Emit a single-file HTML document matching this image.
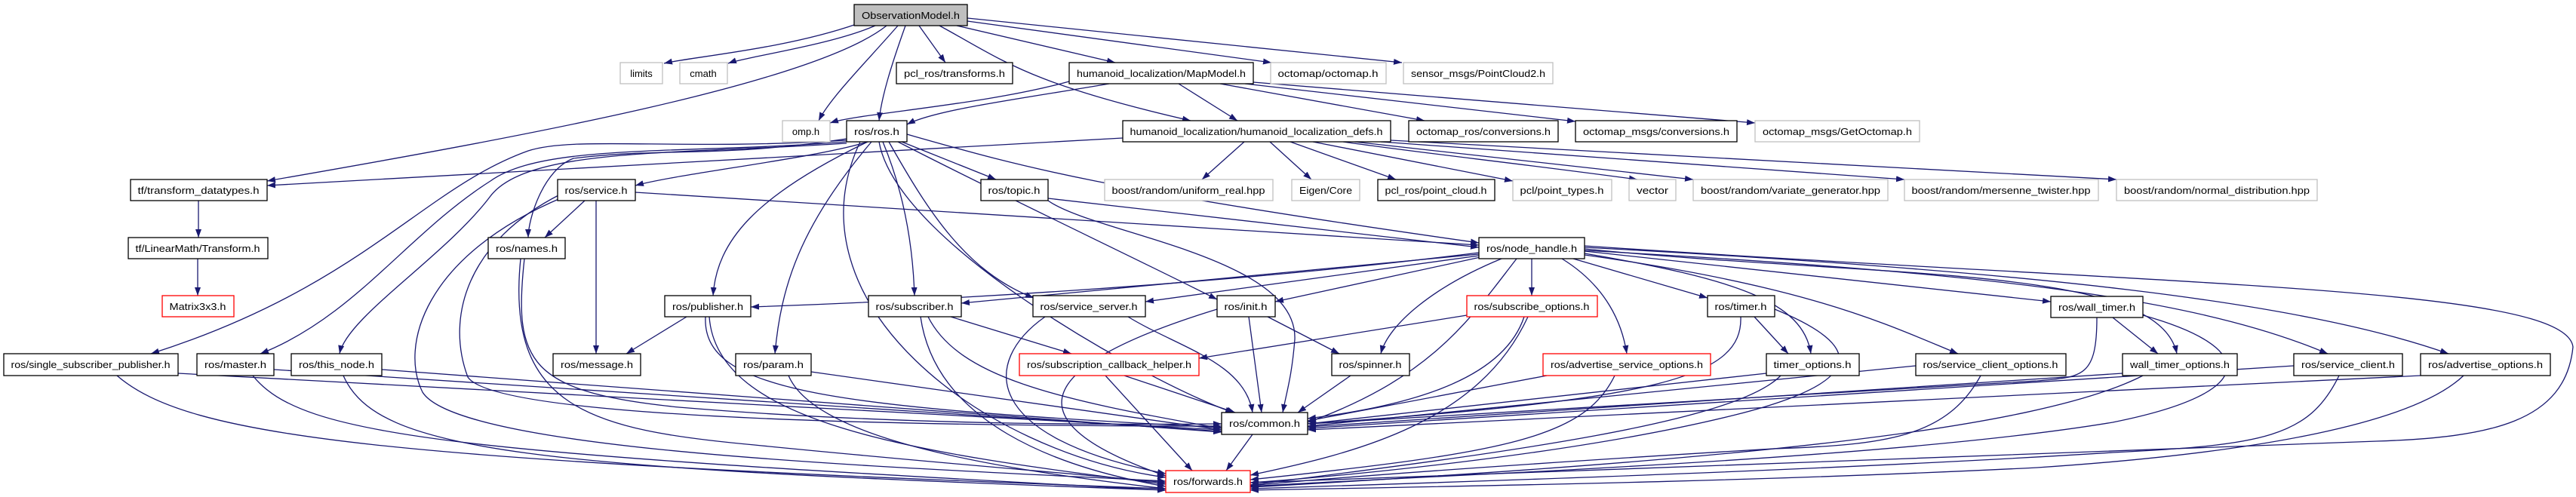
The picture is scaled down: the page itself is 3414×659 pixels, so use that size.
<!DOCTYPE html>
<html><head><meta charset="utf-8"><style>
html,body{margin:0;padding:0;background:#fff;}
svg{display:block;}
text{font-family:"Liberation Sans",sans-serif;font-size:13px;fill:#000;text-anchor:middle;}
.e{fill:none;stroke:#191970;stroke-width:1.3;marker-end:url(#a);}
.b{fill:#fff;stroke:#000;stroke-width:1.3;}
.g{fill:#fff;stroke:#bfbfbf;stroke-width:1.3;}
.r{fill:#fff;stroke:#ff0000;stroke-width:1.3;}
</style></head><body>
<svg width="3414" height="659" viewBox="0 0 3414 659" xmlns="http://www.w3.org/2000/svg">
<defs><marker id="a" markerWidth="12" markerHeight="10" refX="11" refY="4" orient="auto" markerUnits="userSpaceOnUse"><path d="M0,0 L11,4 L0,8 z" fill="#191970"/></marker></defs>
<g>
<path class="e" d="M1135,32 C1040,65 920,75 880,84"/>
<path class="e" d="M1160,34 C1100,60 990,75 965,84"/>
<path class="e" d="M1190,34 C1150,80 1100,130 1085,160"/>
<path class="e" d="M1200,34 C1180,90 1168,130 1165,160"/>
<path class="e" d="M1175,34 C1080,110 700,180 354,240"/>
<path class="e" d="M1218,34 L1253,83"/>
<path class="e" d="M1268,34 L1478,83"/>
<path class="e" d="M1245,34 C1330,80 1360,110 1578,160"/>
<path class="e" d="M1282,28 L1685,83"/>
<path class="e" d="M1282,24 L1858,83"/>
<path class="e" d="M1417,108 C1300,140 1140,150 1100,163"/>
<path class="e" d="M1470,111 C1360,130 1240,145 1202,165"/>
<path class="e" d="M1562,111 L1640,160"/>
<path class="e" d="M1617,111 L1888,160"/>
<path class="e" d="M1650,111 L2088,161"/>
<path class="e" d="M1661,109 L2326,163"/>
<path class="e" d="M1488,183 L354,246"/>
<path class="e" d="M1649,188 L1593,238"/>
<path class="e" d="M1683,188 L1738,238"/>
<path class="e" d="M1710,188 L1850,238"/>
<path class="e" d="M1740,188 L2005,240"/>
<path class="e" d="M1780,188 C1900,205 2000,215 2170,238"/>
<path class="e" d="M1795,188 L2244,238"/>
<path class="e" d="M1830,188 L2524,238"/>
<path class="e" d="M1843,186 L2805,238"/>
<path class="e" d="M1150,188 C1080,210 900,230 842,246"/>
<path class="e" d="M1122,184 C950,210 880,195 760,210 C720,225 700,290 700,315"/>
<path class="e" d="M1195,188 L1320,238"/>
<path class="e" d="M1202,178 C1350,220 1450,250 1960,322"/>
<path class="e" d="M1150,188 C1000,260 950,320 945,392"/>
<path class="e" d="M1170,188 C1200,260 1210,330 1212,392"/>
<path class="e" d="M1178,188 C1230,280 1280,360 1370,395"/>
<path class="e" d="M1190,188 C1330,260 1500,340 1613,397"/>
<path class="e" d="M1155,188 C1060,300 1035,380 1027,469"/>
<path class="e" d="M1122,186 C900,200 760,180 700,200 C560,250 480,380 200,469"/>
<path class="e" d="M1122,188 C900,205 720,190 650,240 C540,310 470,420 345,469"/>
<path class="e" d="M1122,190 C900,205 700,195 650,260 C590,340 460,420 450,469"/>
<path class="e" d="M1165,188 C1190,330 1550,520 1635,547"/>
<path class="e" d="M1140,188 C1040,400 1300,600 1545,633"/>
<path class="e" d="M263,266 L263,315"/>
<path class="e" d="M262,343 L262,392"/>
<path class="e" d="M775,266 L722,315"/>
<path class="e" d="M790,266 L790,469"/>
<path class="e" d="M742,258 C620,320 590,420 620,500 C660,560 1300,565 1619,565"/>
<path class="e" d="M745,262 C560,340 530,460 560,520 C610,600 1200,620 1545,638"/>
<path class="e" d="M842,255 L1960,325"/>
<path class="e" d="M695,343 C680,480 700,520 900,540 C1200,565 1500,563 1619,562"/>
<path class="e" d="M690,343 C670,540 780,570 1000,590 C1250,615 1450,630 1545,640"/>
<path class="e" d="M1389,263 L1960,328"/>
<path class="e" d="M1389,266 C1450,310 1720,340 1716,450 C1712,500 1705,520 1700,547"/>
<path class="e" d="M1960,335 C1600,380 1200,400 995,407"/>
<path class="e" d="M1960,337 L1274,402"/>
<path class="e" d="M1960,339 L1518,400"/>
<path class="e" d="M1962,341 L1690,400"/>
<path class="e" d="M1990,343 C1900,380 1840,430 1830,469"/>
<path class="e" d="M2030,343 L2030,392"/>
<path class="e" d="M2070,343 C2130,380 2150,430 2156,469"/>
<path class="e" d="M2085,343 L2263,395"/>
<path class="e" d="M2100,336 C2300,370 2390,400 2400,469"/>
<path class="e" d="M2100,333 L2718,400"/>
<path class="e" d="M2100,330 C2500,370 2860,350 2885,469"/>
<path class="e" d="M2100,338 C2400,380 2500,430 2595,469"/>
<path class="e" d="M2100,332 C2600,360 2900,390 3085,469"/>
<path class="e" d="M2100,328 C2700,360 3050,400 3245,469"/>
<path class="e" d="M2010,343 C1950,420 1900,500 1733,560"/>
<path class="e" d="M2100,326 C2900,380 3400,380 3410,460 C3400,560 3300,580 3150,585 C2700,600 2000,630 1657,640"/>
<path class="e" d="M910,420 L830,469"/>
<path class="e" d="M935,420 C930,520 1100,540 1619,567"/>
<path class="e" d="M940,420 C950,560 1200,600 1545,642"/>
<path class="e" d="M1260,420 L1420,469"/>
<path class="e" d="M1230,420 C1270,500 1400,530 1619,568"/>
<path class="e" d="M1220,420 C1240,560 1400,620 1545,645"/>
<path class="e" d="M1495,420 C1560,460 1650,480 1660,547"/>
<path class="e" d="M1385,420 C1300,480 1300,580 1545,628"/>
<path class="e" d="M1680,420 L1775,469"/>
<path class="e" d="M1655,420 L1672,547"/>
<path class="e" d="M1613,410 C1450,460 1280,540 1545,631"/>
<path class="e" d="M1944,418 L1589,475"/>
<path class="e" d="M2020,420 C1990,510 1850,540 1733,555"/>
<path class="e" d="M2025,420 C1960,560 1800,600 1657,630"/>
<path class="e" d="M2325,420 L2370,469"/>
<path class="e" d="M2307,420 C2310,500 2200,530 1733,562"/>
<path class="e" d="M2352,410 C2450,450 2500,500 2300,550 C2100,600 1800,630 1657,640"/>
<path class="e" d="M2800,421 L2860,469"/>
<path class="e" d="M2779,421 C2779,500 2760,500 2700,505 C2300,530 1900,550 1733,562"/>
<path class="e" d="M2840,418 C2990,460 3000,520 2800,560 C2500,610 1900,630 1657,645"/>
<path class="e" d="M1490,498 L1637,547"/>
<path class="e" d="M1465,498 L1580,624"/>
<path class="e" d="M1790,498 L1720,547"/>
<path class="e" d="M2050,498 L1733,558"/>
<path class="e" d="M2140,498 C2100,580 2000,600 1657,636"/>
<path class="e" d="M2341,495 L1733,562"/>
<path class="e" d="M2360,498 C2300,560 2000,600 1657,643"/>
<path class="e" d="M2539,485 L1733,565"/>
<path class="e" d="M2625,498 C2580,580 2500,590 2350,595 C2100,610 1800,630 1657,644"/>
<path class="e" d="M2813,495 L1733,566"/>
<path class="e" d="M2840,498 C2700,570 2300,610 1657,646"/>
<path class="e" d="M3040,485 L1733,568"/>
<path class="e" d="M3100,498 C3060,580 3000,590 2800,600 C2400,625 1900,640 1657,648"/>
<path class="e" d="M3208,498 L1733,570"/>
<path class="e" d="M3265,498 C3200,560 3000,600 2700,620 C2300,640 1900,645 1657,650"/>
<path class="e" d="M236,495 L1619,570"/>
<path class="e" d="M155,498 C250,580 500,610 1545,648"/>
<path class="e" d="M363,490 L1619,572"/>
<path class="e" d="M335,498 C400,580 600,600 1545,650"/>
<path class="e" d="M506,490 L1619,573"/>
<path class="e" d="M455,498 C500,600 700,620 1545,650"/>
<path class="e" d="M1075,493 L1619,570"/>
<path class="e" d="M1045,498 C1080,580 1300,620 1545,648"/>
<path class="e" d="M1660,576 L1625,624"/>
</g>
<g>
<rect x="1132" y="6" width="150" height="28" fill="#bfbfbf" stroke="#000" stroke-width="1.3"/><text x="1207" y="25" textLength="130" lengthAdjust="spacingAndGlyphs">ObservationModel.h</text>
<rect class="g" x="822" y="83" width="56" height="28"/><text x="850" y="102">limits</text>
<rect class="g" x="901" y="83" width="63" height="28"/><text x="932" y="102">cmath</text>
<rect class="b" x="1188" y="83" width="154" height="28"/><text x="1265" y="102" textLength="134" lengthAdjust="spacingAndGlyphs">pcl_ros/transforms.h</text>
<rect class="b" x="1417" y="83" width="244" height="28"/><text x="1539" y="102" textLength="224" lengthAdjust="spacingAndGlyphs">humanoid_localization/MapModel.h</text>
<rect class="g" x="1684" y="83" width="153" height="28"/><text x="1760" y="102" textLength="133" lengthAdjust="spacingAndGlyphs">octomap/octomap.h</text>
<rect class="g" x="1860" y="83" width="198" height="28"/><text x="1959" y="102" textLength="178" lengthAdjust="spacingAndGlyphs">sensor_msgs/PointCloud2.h</text>
<rect class="g" x="1037" y="160" width="63" height="28"/><text x="1068" y="179">omp.h</text>
<rect class="b" x="1122" y="160" width="80" height="28"/><text x="1162" y="179" textLength="60" lengthAdjust="spacingAndGlyphs">ros/ros.h</text>
<rect class="b" x="1488" y="160" width="355" height="28"/><text x="1665" y="179" textLength="335" lengthAdjust="spacingAndGlyphs">humanoid_localization/humanoid_localization_defs.h</text>
<rect class="b" x="1867" y="160" width="198" height="28"/><text x="1966" y="179" textLength="178" lengthAdjust="spacingAndGlyphs">octomap_ros/conversions.h</text>
<rect class="b" x="2088" y="160" width="214" height="28"/><text x="2195" y="179" textLength="194" lengthAdjust="spacingAndGlyphs">octomap_msgs/conversions.h</text>
<rect class="g" x="2326" y="160" width="218" height="28"/><text x="2435" y="179" textLength="198" lengthAdjust="spacingAndGlyphs">octomap_msgs/GetOctomap.h</text>
<rect class="b" x="173" y="238" width="181" height="28"/><text x="263" y="257" textLength="161" lengthAdjust="spacingAndGlyphs">tf/transform_datatypes.h</text>
<rect class="b" x="739" y="238" width="103" height="28"/><text x="790" y="257" textLength="83" lengthAdjust="spacingAndGlyphs">ros/service.h</text>
<rect class="b" x="1300" y="238" width="89" height="28"/><text x="1344" y="257" textLength="69" lengthAdjust="spacingAndGlyphs">ros/topic.h</text>
<rect class="g" x="1464" y="238" width="223" height="28"/><text x="1575" y="257" textLength="203" lengthAdjust="spacingAndGlyphs">boost/random/uniform_real.hpp</text>
<rect class="g" x="1712" y="238" width="90" height="28"/><text x="1757" y="257" textLength="70" lengthAdjust="spacingAndGlyphs">Eigen/Core</text>
<rect class="b" x="1826" y="238" width="155" height="28"/><text x="1903" y="257" textLength="135" lengthAdjust="spacingAndGlyphs">pcl_ros/point_cloud.h</text>
<rect class="g" x="2005" y="238" width="131" height="28"/><text x="2070" y="257" textLength="111" lengthAdjust="spacingAndGlyphs">pcl/point_types.h</text>
<rect class="g" x="2159" y="238" width="62" height="28"/><text x="2190" y="257" textLength="42" lengthAdjust="spacingAndGlyphs">vector</text>
<rect class="g" x="2244" y="238" width="258" height="28"/><text x="2373" y="257" textLength="238" lengthAdjust="spacingAndGlyphs">boost/random/variate_generator.hpp</text>
<rect class="g" x="2524" y="238" width="257" height="28"/><text x="2652" y="257" textLength="237" lengthAdjust="spacingAndGlyphs">boost/random/mersenne_twister.hpp</text>
<rect class="g" x="2805" y="238" width="266" height="28"/><text x="2938" y="257" textLength="246" lengthAdjust="spacingAndGlyphs">boost/random/normal_distribution.hpp</text>
<rect class="b" x="170" y="315" width="185" height="28"/><text x="262" y="334" textLength="165" lengthAdjust="spacingAndGlyphs">tf/LinearMath/Transform.h</text>
<rect class="b" x="647" y="315" width="102" height="28"/><text x="698" y="334" textLength="82" lengthAdjust="spacingAndGlyphs">ros/names.h</text>
<rect class="b" x="1960" y="315" width="140" height="28"/><text x="2030" y="334" textLength="120" lengthAdjust="spacingAndGlyphs">ros/node_handle.h</text>
<rect class="r" x="215" y="392" width="95" height="28"/><text x="262" y="411" textLength="75" lengthAdjust="spacingAndGlyphs">Matrix3x3.h</text>
<rect class="b" x="881" y="392" width="114" height="28"/><text x="938" y="411" textLength="94" lengthAdjust="spacingAndGlyphs">ros/publisher.h</text>
<rect class="b" x="1151" y="392" width="123" height="28"/><text x="1212" y="411" textLength="103" lengthAdjust="spacingAndGlyphs">ros/subscriber.h</text>
<rect class="b" x="1369" y="392" width="149" height="28"/><text x="1443" y="411" textLength="129" lengthAdjust="spacingAndGlyphs">ros/service_server.h</text>
<rect class="b" x="1613" y="392" width="77" height="28"/><text x="1651" y="411" textLength="57" lengthAdjust="spacingAndGlyphs">ros/init.h</text>
<rect class="r" x="1944" y="392" width="173" height="28"/><text x="2030" y="411" textLength="153" lengthAdjust="spacingAndGlyphs">ros/subscribe_options.h</text>
<rect class="b" x="2263" y="392" width="89" height="28"/><text x="2307" y="411" textLength="69" lengthAdjust="spacingAndGlyphs">ros/timer.h</text>
<rect class="b" x="2718" y="393" width="122" height="28"/><text x="2779" y="412" textLength="102" lengthAdjust="spacingAndGlyphs">ros/wall_timer.h</text>
<rect class="b" x="5" y="469" width="231" height="29"/><text x="120" y="488" textLength="211" lengthAdjust="spacingAndGlyphs">ros/single_subscriber_publisher.h</text>
<rect class="b" x="261" y="469" width="102" height="29"/><text x="312" y="488" textLength="82" lengthAdjust="spacingAndGlyphs">ros/master.h</text>
<rect class="b" x="386" y="469" width="120" height="29"/><text x="446" y="488" textLength="100" lengthAdjust="spacingAndGlyphs">ros/this_node.h</text>
<rect class="b" x="733" y="469" width="116" height="29"/><text x="791" y="488" textLength="96" lengthAdjust="spacingAndGlyphs">ros/message.h</text>
<rect class="b" x="975" y="469" width="100" height="29"/><text x="1025" y="488" textLength="80" lengthAdjust="spacingAndGlyphs">ros/param.h</text>
<rect class="r" x="1351" y="469" width="238" height="29"/><text x="1470" y="488" textLength="218" lengthAdjust="spacingAndGlyphs">ros/subscription_callback_helper.h</text>
<rect class="b" x="1765" y="469" width="103" height="29"/><text x="1816" y="488" textLength="83" lengthAdjust="spacingAndGlyphs">ros/spinner.h</text>
<rect class="r" x="2045" y="469" width="222" height="29"/><text x="2156" y="488" textLength="202" lengthAdjust="spacingAndGlyphs">ros/advertise_service_options.h</text>
<rect class="b" x="2341" y="469" width="123" height="29"/><text x="2402" y="488" textLength="103" lengthAdjust="spacingAndGlyphs">timer_options.h</text>
<rect class="b" x="2539" y="469" width="199" height="29"/><text x="2638" y="488" textLength="179" lengthAdjust="spacingAndGlyphs">ros/service_client_options.h</text>
<rect class="b" x="2813" y="469" width="152" height="29"/><text x="2889" y="488" textLength="132" lengthAdjust="spacingAndGlyphs">wall_timer_options.h</text>
<rect class="b" x="3040" y="469" width="144" height="29"/><text x="3112" y="488" textLength="124" lengthAdjust="spacingAndGlyphs">ros/service_client.h</text>
<rect class="b" x="3208" y="469" width="172" height="29"/><text x="3294" y="488" textLength="152" lengthAdjust="spacingAndGlyphs">ros/advertise_options.h</text>
<rect class="b" x="1619" y="547" width="114" height="29"/><text x="1676" y="566" textLength="94" lengthAdjust="spacingAndGlyphs">ros/common.h</text>
<rect class="r" x="1545" y="624" width="112" height="29"/><text x="1601" y="643" textLength="92" lengthAdjust="spacingAndGlyphs">ros/forwards.h</text>
</g>
</svg>
</body></html>
